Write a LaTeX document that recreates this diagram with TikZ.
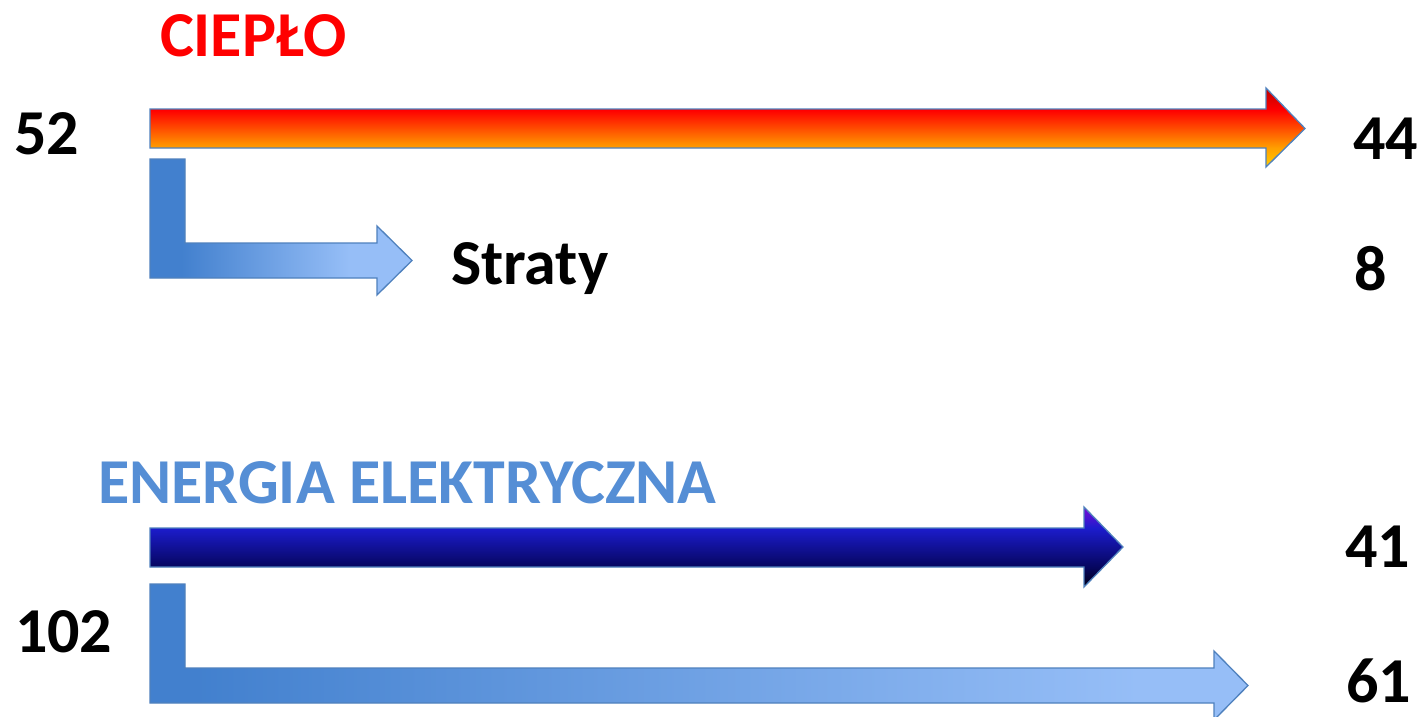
\documentclass[tikz,border=0pt]{standalone}
\usepackage{fontspec}
\setmainfont{Carlito}
\definecolor{edgeblue}{RGB}{79,129,189}
\definecolor{cieplored}{RGB}{255,0,0}
\definecolor{energyblue}{RGB}{85,142,213}
\definecolor{stemblue}{RGB}{66,128,206}
\definecolor{lightblue}{RGB}{150,190,247}
\pgfdeclareverticalshading{heatshade}{100bp}{color(0bp)=(rgb,255:red,255;green,205;blue,0); color(25bp)=(rgb,255:red,255;green,205;blue,0); color(37bp)=(rgb,255:red,255;green,160;blue,0); color(61bp)=(rgb,255:red,255;green,0;blue,0); color(75bp)=(rgb,255:red,190;green,0;blue,0); color(100bp)=(rgb,255:red,190;green,0;blue,0)}
\pgfdeclareverticalshading{powershade}{100bp}{color(0bp)=(rgb,255:red,0;green,0;blue,25); color(25bp)=(rgb,255:red,0;green,0;blue,25); color(37.5bp)=(rgb,255:red,6;green,6;blue,95); color(62bp)=(rgb,255:red,28;green,28;blue,205); color(75bp)=(rgb,255:red,120;green,10;blue,215); color(100bp)=(rgb,255:red,120;green,10;blue,215)}
\pgfdeclarehorizontalshading{lossshade}{100bp}{color(0bp)=(stemblue); color(31bp)=(stemblue); color(63bp)=(lightblue); color(100bp)=(lightblue)}
\pgfdeclarehorizontalshading{restshade}{100bp}{color(0bp)=(stemblue); color(27bp)=(stemblue); color(70bp)=(lightblue); color(100bp)=(lightblue)}
\begin{document}
\begin{tikzpicture}[x=1pt,y=-1pt,
  valtext/.style={font=\fontsize{64}{64}\selectfont\bfseries, anchor=base west, inner sep=0pt, outer sep=0pt},
  arrowshape/.style={draw=edgeblue, line width=1.3pt, line join=miter}]
\useasboundingbox[fill=white] (0,0) rectangle (1422,717);
% heat block
\node[valtext, text=cieplored] (heat) at (160,57) {CIEPŁO};
\node[valtext] (heatin) at (14,154) {52};
\node[valtext] (heatout) at (1353,159) {44};
\node[valtext] (loss) at (451,284) {Straty};
\node[valtext] (lossval) at (1354,290) {8};
\path[arrowshape, shading=heatshade] (150,109) -- (1266,109) -- (1266,88) -- (1305,128.5) -- (1266,167) -- (1266,148) -- (150,148) -- cycle;
\path[arrowshape, shading=lossshade] (150,159) -- (185,159) -- (185,243) -- (377,243) -- (377,226) -- (412,260.5) -- (377,295) -- (377,278) -- (150,278) -- cycle;
% electricity block
\node[valtext, text=energyblue] (power) at (98,503) {ENERGIA ELEKTRYCZNA};
\node[valtext] (powerin) at (15,652) {102};
\node[valtext] (powerout) at (1345,567) {41};
\node[valtext] (restval) at (1346,702) {61};
\path[arrowshape, shading=powershade] (150,528) -- (1084,528) -- (1084,507) -- (1123,547) -- (1084,587) -- (1084,567) -- (150,567) -- cycle;
\path[arrowshape, shading=restshade] (150,584) -- (185,584) -- (185,668) -- (1214,668) -- (1214,651) -- (1248,685.5) -- (1214,720) -- (1214,703) -- (150,703) -- cycle;
\end{tikzpicture}
\end{document}
